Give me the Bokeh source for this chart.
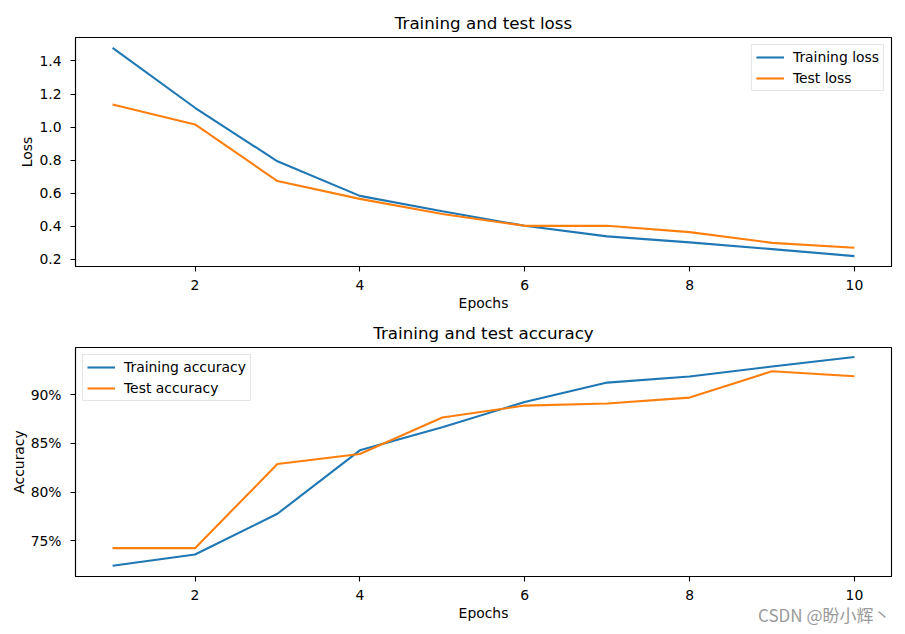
from bokeh.plotting import figure
from bokeh.layouts import column
from bokeh.models import (Legend, LegendItem, FixedTicker, NumeralTickFormatter,
                          Range1d, Title)
from bokeh.embed import file_html
from bokeh.resources import INLINE

epochs = [1, 2, 3, 4, 5, 6, 7, 8, 9, 10]
train_loss = [1.479, 1.117, 0.793, 0.584, 0.491, 0.403, 0.339, 0.303, 0.262, 0.220]
test_loss = [1.137, 1.016, 0.674, 0.566, 0.475, 0.403, 0.403, 0.365, 0.300, 0.270]
train_acc = [0.7243, 0.7359, 0.7777, 0.8428, 0.8664, 0.8924, 0.9123, 0.9185, 0.9288, 0.9386]
test_acc = [0.7424, 0.7424, 0.8287, 0.8390, 0.8764, 0.8887, 0.8908, 0.8969, 0.9239, 0.9188]
x_ticks = [2, 4, 6, 8, 10]
loss_ticks = [0.2, 0.4, 0.6, 0.8, 1.0, 1.2, 1.4]
acc_ticks = [0.75, 0.80, 0.85, 0.90]

BLUE = "#1f77b4"
ORANGE = "#ff7f0e"
FONT = "DejaVu Sans"
FS = "13.9px"


def style(p, title, ylabel):
    p.title.text = title
    p.title.align = "center"
    p.title.text_font = FONT
    p.title.text_font_size = "16.7px"
    p.title.text_font_style = "normal"
    p.title.text_color = "black"
    p.title.standoff = 10
    p.xgrid.visible = False
    p.ygrid.visible = False
    p.outline_line_color = "black"
    p.outline_line_width = 1.1
    for ax in (p.xaxis[0], p.yaxis[0]):
        ax.axis_line_color = "black"
        ax.axis_line_width = 1.1
        ax.major_tick_line_color = "black"
        ax.major_tick_line_width = 1.1
        ax.major_tick_out = 5
        ax.major_tick_in = 0
        ax.minor_tick_line_color = None
        ax.major_label_text_font = FONT
        ax.major_label_text_font_size = FS
        ax.major_label_text_color = "black"
        ax.axis_label_text_font = FONT
        ax.axis_label_text_font_size = FS
        ax.axis_label_text_font_style = "normal"
        ax.axis_label_text_color = "black"
    p.xaxis[0].major_label_standoff = 8
    p.xaxis[0].axis_label_standoff = 2
    p.yaxis[0].major_label_standoff = 9
    p.yaxis[0].axis_label_standoff = 1
    p.xaxis[0].ticker = FixedTicker(ticks=x_ticks)
    p.xaxis[0].axis_label = "Epochs"
    p.yaxis[0].axis_label = ylabel


def make_legend(p, items, loc):
    leg = Legend(items=items, location=loc, margin=7, padding=4, spacing=5,
                 label_height=14, glyph_height=14, glyph_width=28,
                 label_standoff=9,
                 label_text_font=FONT, label_text_font_size=FS,
                 label_text_color="black",
                 border_line_color="#cccccc", border_line_width=1,
                 background_fill_color="white", background_fill_alpha=0.8)
    p.add_layout(leg)


# top
p1 = figure(frame_width=816, frame_height=229, output_backend="svg",
            toolbar_location=None,
            x_range=Range1d(0.55, 10.45), y_range=Range1d(0.157, 1.542),
            min_border_left=75, min_border_right=9, min_border_top=37,
            min_border_bottom=47)
style(p1, "Training and test loss", "Loss")
p1.yaxis[0].ticker = FixedTicker(ticks=loss_ticks)
p1.yaxis[0].formatter = NumeralTickFormatter(format="0.0")
r1 = p1.line(epochs, train_loss, line_color=BLUE, line_width=2.1)
r2 = p1.line(epochs, test_loss, line_color=ORANGE, line_width=2.1)
make_legend(p1, [LegendItem(label="Training loss", renderers=[r1]),
                 LegendItem(label="Test loss", renderers=[r2])], "top_right")

# bottom
p2 = figure(frame_width=816, frame_height=229, output_backend="svg",
            toolbar_location=None,
            x_range=Range1d(0.55, 10.45), y_range=Range1d(0.7133, 0.9483),
            min_border_left=75, min_border_right=9, min_border_top=34,
            min_border_bottom=56)
style(p2, "Training and test accuracy", "Accuracy")
p2.yaxis[0].ticker = FixedTicker(ticks=acc_ticks)
p2.yaxis[0].formatter = NumeralTickFormatter(format="0%")
r3 = p2.line(epochs, train_acc, line_color=BLUE, line_width=2.1)
r4 = p2.line(epochs, test_acc, line_color=ORANGE, line_width=2.1)
make_legend(p2, [LegendItem(label="Training accuracy", renderers=[r3]),
                 LegendItem(label="Test accuracy", renderers=[r4])], "top_left")

wm = Title(text="CSDN @盼小辉丶", align="right", vertical_align="top",
           standoff=-44, offset=1,
           text_font="Noto Sans CJK SC", text_font_size="17px",
           text_font_style="normal", text_color="#9a9a9a")
p2.add_layout(wm, "below")

layout = column(p1, p2, spacing=0)
open("out.html", "w").write(file_html(layout, INLINE))
